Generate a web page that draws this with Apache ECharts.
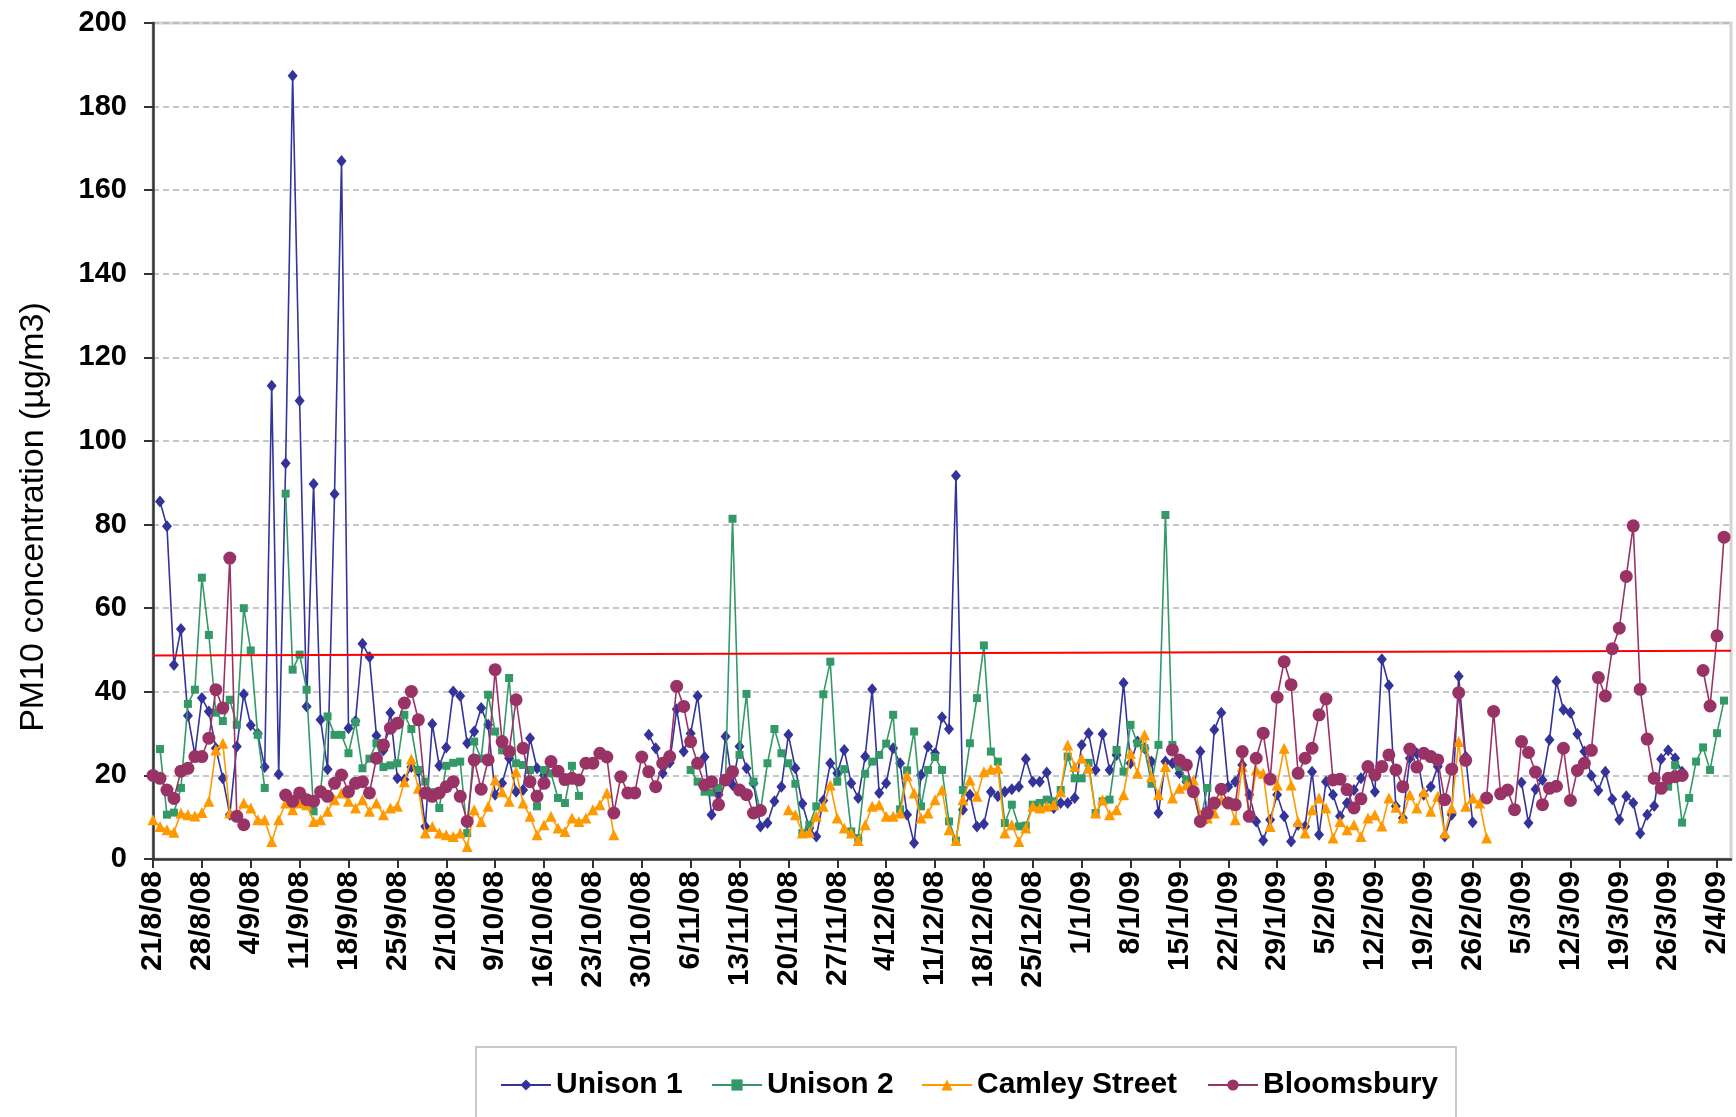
<!DOCTYPE html>
<html>
<head>
<meta charset="utf-8">
<script src="https://cdn.jsdelivr.net/npm/echarts@6/dist/echarts.min.js"></script>
<style>
html,body{margin:0;padding:0;background:#fff;}
#chart{width:1736px;height:1117px;}
</style>
</head>
<body>
<div id="chart"></div>
<script>
// Categories: daily dates from 21/8/08 to 4/4/09
const startDate = [2008, 7, 21];
const dayCount = 227;
const categories = [];
for (let i = 0; i < dayCount; i++) {
  const dt = new Date(startDate[0], startDate[1], startDate[2] + i);
  categories.push(dt.getDate() + '/' + (dt.getMonth() + 1) + '/' + String(dt.getFullYear()).slice(2));
}

const yTicks = [0, 20, 40, 60, 80, 100, 120, 140, 160, 180, 200];
const limitLine = [48.7, 49.8];
const seriesNames = ['Unison 1', 'Unison 2', 'Camley Street', 'Bloomsbury'];
const yTitle = 'PM10 concentration (µg/m3)';

const unison1 = [null,85.5,79.6,46.4,55,34.3,25,38.5,35.3,26.5,
19.3,10.6,26.9,39.4,32,30,22,113.2,20.3,94.7,
187.4,109.6,36.5,89.7,33.3,21.5,87.3,167,31.3,33,
51.5,48.3,29.5,26,35,19.3,19,22,21,7.8,
32.3,22.3,26.7,40.1,39,27.7,30.5,36.1,32.1,15.4,
18.1,24.1,16.1,16.5,28.9,21.7,20,null,null,null,
null,null,null,null,null,null,null,null,null,null,
null,29.7,26.5,20.5,23,35.8,25.7,30,39,24.4,
10.6,15.4,29.3,17.7,26.9,21.7,18.1,7.8,8.6,13.8,
17.3,29.7,21.7,13.2,7.4,5.4,14,22.9,20.5,26.1,
18.1,14.6,24.5,40.6,15.8,18.1,26.5,22.9,10.6,3.8,
20.1,26.9,25.3,33.9,31.1,91.7,11.8,15.4,7.8,8.4,
16.1,15,16.1,16.7,17.3,23.9,18.5,18.5,20.7,12.2,
13.4,13.4,14.6,27.3,30.1,21.3,29.9,21.3,24.9,42.1,
22.9,28.1,26.5,23.3,11,23.3,22.9,20.5,18.5,16.5,
25.7,9.8,30.9,35,17.3,18.5,22.5,15.4,9,4.4,
9.4,15.4,10.2,4.2,8.2,7.8,20.9,5.8,18.5,15.4,
10.2,13.4,16.5,19.3,22,16.1,47.8,41.5,12.6,9.8,
24.1,25.3,15.4,17.3,22.1,5.4,10.6,43.7,24.5,8.8,
null,null,null,null,null,null,18.3,8.6,16.7,18.9,
28.5,42.5,35.7,35,29.9,25.7,19.9,16.4,20.9,14.3,
9.4,15,13.4,6.1,10.6,12.7,23.9,26,24.1,20.9,
null,null,null,null,null,null,null];

const unison2 = [null,26.3,10.6,11.1,17,37.1,40.5,67.3,53.6,35,
33,38.1,32.1,60,49.9,29.7,17,null,null,87.4,
45.3,48.9,40.5,11.4,16,34.1,29.7,29.7,25.3,32.7,
21.7,24,27.7,22,22.4,22.9,34.5,31.1,21.3,18.5,
16,12.2,22.3,23,23.3,6.2,28.1,24,39.3,30.5,
26,43.3,22.9,22.5,21.3,12.6,21.3,20.5,14.6,13.4,
22.3,15.1,null,null,null,null,null,null,null,null,
null,null,null,null,null,null,null,21.3,18.5,16.1,
15.9,17,19.3,81.4,24.9,39.5,18.5,11.4,22.9,31.1,
25.3,22.9,18,6.2,8.2,12.6,39.4,47.2,18.5,21.5,
6.6,5,20.4,23.3,24.9,27.6,34.5,11.9,21.2,30.5,
12.6,21.3,24.4,21.3,9,4.4,16.5,27.7,38.5,51.1,
25.7,23.3,8.6,13,7.8,8,13,13.4,14.2,13.8,
16.5,24.5,19.3,19.3,23,11,13.8,14.2,26.1,20.9,
32.1,27.7,26.5,18,27.3,82.3,27.3,22,19,16,
9,17,null,null,null,null,null,null,null,null,
null,null,null,null,null,null,null,null,null,null,
null,null,null,null,null,null,null,null,null,null,
null,null,null,null,null,null,null,null,null,null,
null,null,null,null,null,null,null,null,null,null,
null,null,null,null,null,null,null,null,null,null,
null,null,null,null,null,null,null,17.3,22.5,8.7,
14.6,23.3,26.7,21.3,30.1,37.9,null];

const camleyStreet = [9.4,7.8,7,6.4,11,10.6,10.3,11.1,13.8,26.1,
27.7,11,10.6,13.4,12.2,9.4,9.4,4.2,9.4,13.4,
11.8,13.4,13,9,9.4,11.4,14.2,15.8,13.8,12.2,
14.2,11.4,13.4,10.6,12.2,12.6,18.5,23.9,16.9,6.2,
7.8,6.2,5.8,5.4,6.2,3,11.8,9,12.6,18.9,
16.1,13.8,20.9,13.4,10.2,5.8,8.2,10.2,7.4,6.6,
9.8,9,9.8,11.8,13,15.8,5.8,null,null,null,
null,null,null,null,null,null,null,null,null,null,
null,null,null,null,null,null,null,null,null,null,
null,11.8,10.6,6.2,6.4,10.2,12.6,17.7,9.8,7.4,
6.2,4.4,8.2,12.6,13,10.2,10.2,11,19.9,15.8,
9.8,11,14.2,16.5,7,4.4,14.2,18.9,15,20.9,
21.5,21.7,6.2,8.2,4.2,7.4,12.6,12.2,12.6,13,
16.1,27.3,22.1,24.1,21.7,11,14.2,10.6,11.8,15.4,
25.3,20.5,29.7,19.7,15.4,22.1,14.6,16.9,17.7,18.9,
10.6,9.8,11,14.2,13.8,9.4,22.1,10.6,21.3,20.5,
7.8,17.7,26.5,17.7,9,6.2,11.8,14.6,12.2,5,
9,7,8.2,5.4,9.8,10.6,7.9,14.6,12.4,9.8,
15.4,12.2,16.1,11.4,15,6.2,12.2,28.1,12.6,14.6,
13.4,5,null,null,null,null,null,null,null,null,
null,null,null,null,null,null,null,null,null,null,
null,null,null,null,null,null,null,null,null,null,
null,null,null,null,null,null,null];

const bloomsbury = [20,19.3,16.5,14.5,21,21.7,24.5,24.5,28.9,40.5,
36.1,72,10.2,8.2,null,null,null,null,null,15.3,
13.8,15.8,14.2,13.8,16.1,15,18.1,20.1,16.1,18.1,
18.5,15.8,24.1,27.3,31.3,32.5,37.3,40.1,33.3,15.8,
15,15.8,17.3,18.5,15,9,23.7,16.7,23.7,45.3,
28.1,25.7,38.1,26.5,18.5,15,18.1,23.3,21,19,
19.3,18.9,22.9,22.9,25.3,24.4,11,19.7,15.8,15.8,
24.4,20.9,17.3,22.9,24.5,41.3,36.5,28.1,22.9,17.7,
18.5,13,18.9,20.9,16.5,15.4,11,11.6,null,null,
null,null,null,null,null,null,null,null,null,null,
null,null,null,null,null,null,null,null,null,null,
null,null,null,null,null,null,null,null,null,null,
null,null,null,null,null,null,null,null,null,null,
null,null,null,null,null,null,null,null,null,null,
null,null,null,null,null,null,26.1,23.7,22.5,16.1,
9,11,13.4,16.7,13.4,13,25.7,10.2,24.1,30.1,
19.1,38.7,47.2,41.7,20.5,24.1,26.5,34.5,38.3,18.9,
19.1,16.6,12.2,14.4,22.1,20.1,22.1,24.9,21.3,17.3,
26.3,22,25.3,24.5,23.7,14.2,21.5,39.8,23.6,null,
null,14.6,35.3,15.6,16.5,11.8,28.1,25.5,20.8,13,
16.9,17.4,26.5,14,21.2,22.9,26,43.4,39,50.3,
55.2,67.6,79.7,40.6,28.7,19.3,16.9,19.3,19.7,20,
null,null,45.1,36.6,53.4,77,null];

const seriesData = [unison1, unison2, camleyStreet, bloomsbury];
const seriesColors = ['#333399', '#339966', '#FF9900', '#993366'];
const seriesSymbols = ['diamond', 'rect', 'triangle', 'circle'];
const seriesSymbolSizes = [[10, 12], 8, 11, 13];
const legendLeft = [500, 711, 921, 1207];

const chart = echarts.init(document.getElementById('chart'), null, {renderer: 'canvas'});

const series = seriesNames.map((name, i) => {
  const s = {
    name: name,
    type: 'line',
    data: seriesData[i],
    symbol: seriesSymbols[i],
    symbolSize: seriesSymbolSizes[i],
    showSymbol: true,
    showAllSymbol: true,
    connectNulls: false,
    itemStyle: {color: seriesColors[i]},
    lineStyle: {color: seriesColors[i], width: 1.6},
    emphasis: {disabled: true},
    z: 3 + i
  };
  if (i === 0) {
    s.markLine = {
      silent: true,
      symbol: 'none',
      label: {show: false},
      lineStyle: {color: '#ff0000', width: 2, type: 'solid'},
      data: [[{coord: [categories[0], limitLine[0]]}, {coord: [categories[dayCount - 1], limitLine[1]]}]]
    };
  }
  return s;
});

const legends = seriesNames.map((name, i) => ({
  data: [name],
  left: legendLeft[i],
  top: 1070,
  padding: 0,
  itemWidth: 50,
  itemHeight: 14,
  selectedMode: false,
  textStyle: {
    fontFamily: '"Liberation Sans", Arial, sans-serif',
    fontWeight: 'bold',
    fontSize: 30,
    color: '#000'
  }
}));

chart.setOption({
  animation: false,
  backgroundColor: '#fff',
  grid: {
    left: 153, right: 5, top: 23, bottom: 258,
    show: true, borderColor: '#d4d4d4', borderWidth: 3, backgroundColor: 'transparent'
  },
  legend: legends,
  graphic: [{
    type: 'rect',
    shape: {x: 476, y: 1047, width: 980, height: 100},
    style: {fill: 'none', stroke: '#c8c8c8', lineWidth: 2},
    silent: true
  }, {
    type: 'text',
    x: 34,
    y: 517,
    rotation: Math.PI / 2,
    silent: true,
    style: {
      text: yTitle,
      fontFamily: '"Liberation Sans", Arial, sans-serif',
      fontSize: 34,
      fill: '#000',
      align: 'center',
      verticalAlign: 'middle'
    }
  }],
  xAxis: {
    type: 'category',
    data: categories,
    boundaryGap: false,
    axisLine: {show: true, lineStyle: {color: '#333', width: 2.5}},
    axisTick: {show: true, interval: 6, length: 9, lineStyle: {color: '#333', width: 2}},
    axisLabel: {
      interval: 6, rotate: 90, margin: 12,
      fontFamily: '"Liberation Sans", Arial, sans-serif',
      fontWeight: 'bold', fontSize: 30, color: '#000'
    },
    splitLine: {show: false}
  },
  yAxis: {
    type: 'value',
    min: yTicks[0], max: yTicks[yTicks.length - 1], interval: yTicks[1] - yTicks[0],
    axisLine: {show: true, lineStyle: {color: '#333', width: 2.5}},
    axisTick: {show: true, length: 9, lineStyle: {color: '#333', width: 2}},
    axisLabel: {
      margin: 26,
      fontFamily: '"Liberation Sans", Arial, sans-serif',
      fontWeight: 'bold', fontSize: 29, color: '#000'
    },
    splitLine: {show: true, lineStyle: {color: '#b4b4b4', width: 1.5, type: [6, 4]}}
  },
  series: series
});
</script>
</body>
</html>
